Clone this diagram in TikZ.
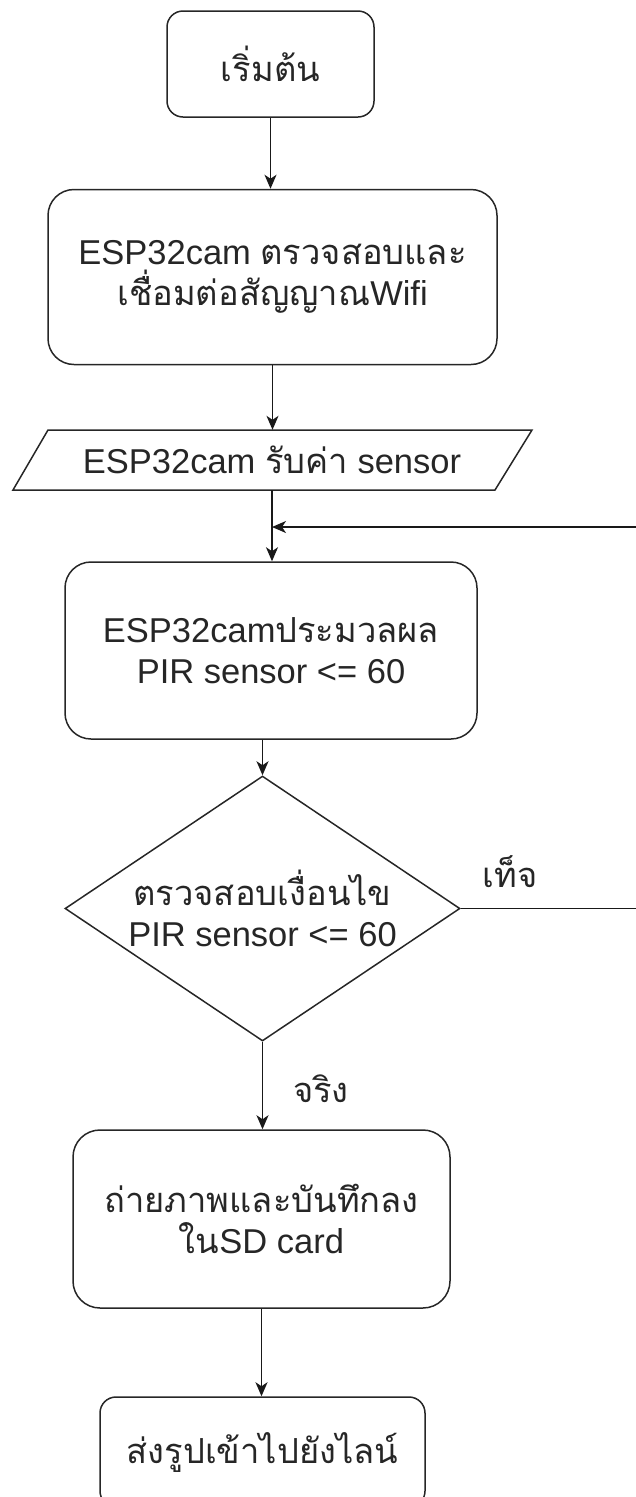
\documentclass[tikz,border=0pt]{standalone}
\usepackage{fontspec}
\setmainfont{Liberation Sans}
\newfontfamily\thaifont[Script=Thai]{Loma}
\newcommand{\tha}[1]{{\thaifont #1}}
\usetikzlibrary{arrows.meta,shapes.geometric,calc}
\begin{document}
\begin{tikzpicture}[x=1pt,y=-1pt,
  every node/.style={font=\fontsize{34.5}{41}\selectfont, text=black!85, align=center, inner sep=0pt},
  proc/.style={draw=black!85, line width=1.5pt},
  conn/.style={draw=black!90, line width=1.5pt, -{Stealth[length=14pt,width=12pt,inset=4pt]}},
  lbl/.style={font=\fontsize{34.5}{41}\selectfont}
]
\useasboundingbox (0,0) rectangle (636,1497);
\clip (0,0) rectangle (636,1497);

\node[proc, rounded corners=16pt, minimum width=207pt, minimum height=106pt] (start) at (270.5,64) {\tha{เริ่มต้น}};
\node[proc, rounded corners=26pt, minimum width=449pt, minimum height=175pt] (wifi) at (272.5,277) {ESP32cam \tha{ตรวจสอบและ}\\\tha{เชื่อมต่อสัญญาณ}Wifi};
\node[minimum width=484pt, minimum height=60pt] (inp) at (272,460) {ESP32cam \tha{รับค่า} sensor};
\draw[proc] (48,430) -- (532,430) -- (495,490) -- (13,490) -- cycle;
\node[proc, rounded corners=26pt, minimum width=412pt, minimum height=177pt] (prc) at (271,650.5) {ESP32cam\tha{ประมวลผล}\\PIR sensor <= 60};
\node[proc, diamond, aspect=1.49, minimum width=395pt, minimum height=265pt] (dec) at (262.5,908.5) {\tha{ตรวจสอบเงื่อนไข}\\PIR sensor <= 60};
\node[proc, rounded corners=27pt, minimum width=377pt, minimum height=178pt] (photo) at (261.5,1219) {\tha{ถ่ายภาพและบันทึกลง}\\\tha{ใน}SD card};
\node[proc, rounded corners=16pt, minimum width=325pt, minimum height=110pt] (send) at (262.5,1452) {\tha{ส่งรูปเข้าไปยังไลน์}};

\node[lbl] (no) at (510,872) {\tha{เท็จ}};
\node[lbl] (yes) at (321,1089) {\tha{จริง}};

\coordinate (join) at (272,527);
\coordinate (far) at (660,527);

\draw[conn] (start.south) -- (start.south |- wifi.north);
\draw[conn] (wifi.south) -- (wifi.south |- inp.north);
\draw[conn] (inp.south) -- (inp.south |- prc.north);
\draw[conn] (dec.east) -- (dec.east -| far) -- (far) -- (join);
\draw[conn] (dec.north |- prc.south) -- (dec.north);
\draw[conn] (dec.south) -- (dec.south |- photo.north);
\draw[conn] (photo.south) -- (photo.south |- send.north);
\end{tikzpicture}
\end{document}
